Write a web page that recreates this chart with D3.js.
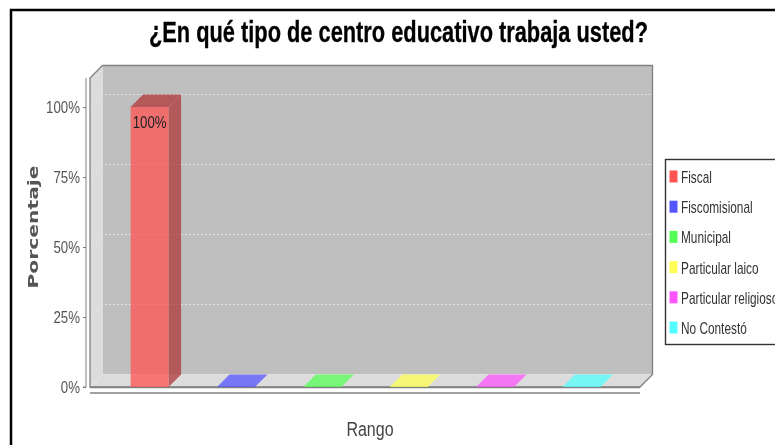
<!DOCTYPE html>
<meta charset="utf-8">
<style>
html, body { margin: 0; padding: 0; background: #fff; overflow: hidden; }
svg { display: block; filter: blur(0.4px); }
text { font-family: "Liberation Sans", sans-serif; }
.title { font-size: 29px; font-weight: bold; fill: #000; stroke: #000; stroke-width: 0.3px; }
.tick text { font-size: 17px; fill: #555; }
.legend text { font-size: 16px; fill: #333; }
</style>
<svg width="775" height="445"></svg>
<script src="https://d3js.org/d3.v7.min.js"></script>
<script>

var categories = ["Fiscal", "Fiscomisional", "Municipal", "Particular laico", "Particular religioso", "No Contestó"];
var values = [100, 0, 0, 0, 0, 0];
var colors = ["#ff5555", "#5555ff", "#55ff55", "#ffff55", "#ff55ff", "#55ffff"];
var yTicks = [0, 25, 50, 75, 100];

var svg = d3.select("svg");

var left = 90, right = 640, bottom = 387, top100 = 107, depth = 12.5;

var y = d3.scaleLinear().domain([0, 100]).range([bottom, top100]);
var x = d3.scaleBand()
    .domain(categories)
    .range([left, right + 1])
    .paddingInner(0.56)
    .paddingOuter(0.47);

// page frame
svg.append("path")
    .attr("d", "M11,445V10H775")
    .attr("fill", "none")
    .attr("stroke", "#000")
    .attr("stroke-width", 2.5);

// walls
var plotTop = 78;
svg.append("path")
    .attr("d", "M" + (left + depth) + "," + (plotTop - depth) + "H" + (right + depth) + "V" + (bottom - depth) + "H" + (left + depth) + "Z")
    .attr("fill", "#bfbfbf");
svg.append("path")
    .attr("d", "M" + left + "," + plotTop + "L" + (left + depth) + "," + (plotTop - depth) + "V" + (bottom - depth) + "L" + left + "," + bottom + "Z")
    .attr("fill", "#dcdcdc");
svg.append("path")
    .attr("d", "M" + left + "," + bottom + "L" + (left + depth) + "," + (bottom - depth) + "H" + (right + depth) + "L" + right + "," + bottom + "Z")
    .attr("fill", "#dcdcdc");

// gridlines
svg.append("g").selectAll("path")
    .data(yTicks)
  .enter().append("path")
    .attr("d", function(d) { return "M" + left + "," + y(d) + "l" + depth + "," + (-depth) + "H" + (right + depth); })
    .attr("fill", "none")
    .attr("stroke", "#e6e6e6")
    .attr("stroke-width", 1.2)
    .attr("stroke-dasharray", "2,2");

// outline
svg.append("path")
    .attr("d", "M" + left + "," + bottom + "V" + plotTop + "L" + (left + depth) + "," + (plotTop - depth) + "H" + (right + depth) + "V" + (bottom - depth) + "L" + right + "," + bottom + "Z")
    .attr("fill", "none")
    .attr("stroke", "#808080")
    .attr("stroke-width", 1.3);
svg.append("path")
    .attr("d", "M" + left + "," + (bottom + 0.5) + "H" + right)
    .attr("stroke", "#808080")
    .attr("stroke-width", 1.5);

// bars
var bars = svg.append("g").selectAll("g")
    .data(categories)
  .enter().append("g")
    .attr("opacity", 0.75);

bars.filter(function(d, i) { return values[i] > 0; }).append("rect")
    .attr("x", function(d) { return x(d); })
    .attr("width", x.bandwidth())
    .attr("y", function(d) { return y(values[categories.indexOf(d)]); })
    .attr("height", function(d) { return bottom - y(values[categories.indexOf(d)]); })
    .attr("fill", function(d) { return colors[categories.indexOf(d)]; });

// side face
bars.filter(function(d, i) { return values[i] > 0; }).append("path")
    .attr("d", function(d) {
      var x1 = x(d) + x.bandwidth(), yv = y(values[categories.indexOf(d)]);
      return "M" + x1 + "," + yv + "l" + depth + "," + (-depth) + "V" + (bottom - depth) + "L" + x1 + "," + bottom + "Z";
    })
    .attr("fill", "#b13838");

// top face (the only face left for empty categories)
bars.append("path")
    .attr("d", function(d) {
      var x0 = x(d), yv = y(values[categories.indexOf(d)]);
      return "M" + x0 + "," + yv + "l" + depth + "," + (-depth) + "h" + x.bandwidth() + "l" + (-depth) + "," + depth + "Z";
    })
    .attr("fill", function(d, i) { return values[i] > 0 ? "#b13838" : colors[i]; });

// value label
svg.append("text")
    .attr("transform", "translate(" + (x(categories[0]) + x.bandwidth() / 2) + "," + (y(values[0]) + 21) + ") scale(0.78,1)")
    .attr("text-anchor", "middle")
    .attr("font-size", 17)
    .attr("fill", "#222")
    .text(values[0] + "%");

// axes
var yAxis = svg.append("g")
    .attr("class", "axis")
    .attr("transform", "translate(86,0)")
    .call(d3.axisLeft(y).tickValues(yTicks).tickSize(3).tickPadding(3).tickFormat(function(d) { return d + "%"; }));
yAxis.select(".domain")
    .attr("d", "M-3," + bottom + "H0V" + plotTop)
    .attr("stroke", "#808080");
yAxis.selectAll(".tick line").attr("stroke", "#808080");
yAxis.selectAll(".tick text")
    .attr("x", -6 / 0.78)
    .attr("transform", "scale(0.78,1)");

svg.append("g")
    .attr("transform", "translate(0,393)")
    .call(d3.axisBottom(x).tickValues([]).tickSizeOuter(0))
  .select(".domain")
    .attr("d", "M" + left + ",0H" + right)
    .attr("stroke", "#808080")
    .attr("stroke-width", 1.5);

// titles
svg.append("text")
    .attr("class", "title")
    .attr("x", 149)
    .attr("y", 42)
    .attr("textLength", 499)
    .attr("lengthAdjust", "spacingAndGlyphs")
    .text("¿En qué tipo de centro educativo trabaja usted?");

svg.append("text")
    .attr("transform", "translate(370,436) scale(0.8,1)")
    .attr("text-anchor", "middle")
    .attr("font-size", 20)
    .attr("fill", "#444")
    .text("Rango");

svg.append("text")
    .attr("transform", "translate(38,227) rotate(-90)")
    .attr("text-anchor", "middle")
    .attr("font-size", 14)
    .attr("font-weight", "bold")
    .attr("fill", "#555")
    .attr("textLength", 123)
    .attr("lengthAdjust", "spacingAndGlyphs")
    .style("font-family", "'DejaVu Sans', sans-serif")
    .text("Porcentaje");

// legend
var legend = svg.append("g").attr("class", "legend");
legend.append("rect")
    .attr("x", 665.5)
    .attr("y", 159.5)
    .attr("width", 120)
    .attr("height", 185)
    .attr("fill", "#fff")
    .attr("stroke", "#333")
    .attr("stroke-width", 1.4);

var rows = legend.selectAll("g")
    .data(categories)
  .enter().append("g")
    .attr("transform", function(d, i) { return "translate(0," + (176 + i * 30.2) + ")"; });
rows.append("rect")
    .attr("x", 669.5)
    .attr("y", -5.5)
    .attr("width", 8)
    .attr("height", 12)
    .attr("fill", function(d, i) { return colors[i]; });
rows.append("text")
    .attr("transform", "translate(681,7) scale(0.74,1)")
    .text(function(d) { return d; });

</script>
